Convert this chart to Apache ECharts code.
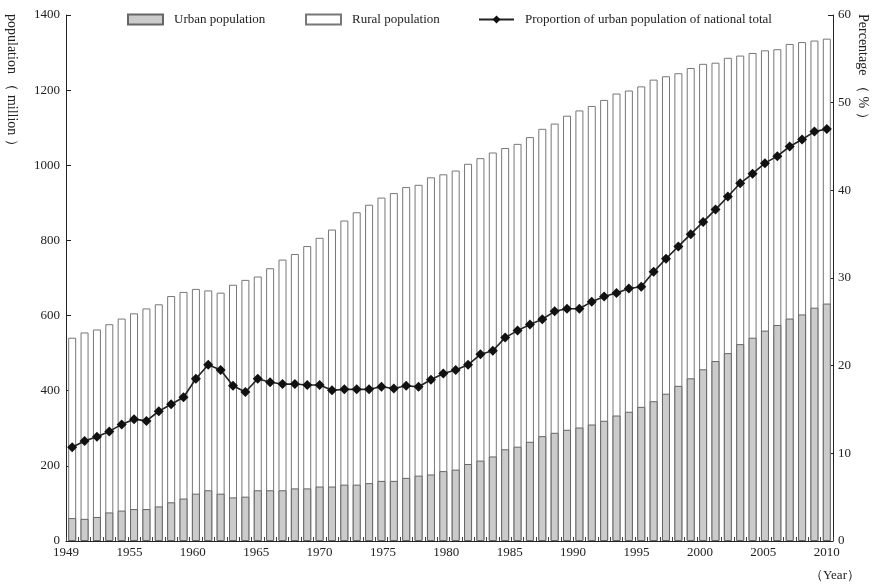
<!DOCTYPE html>
<html>
<head>
<meta charset="utf-8">
<script src="https://cdn.jsdelivr.net/npm/echarts@6/dist/echarts.min.js"></script>
<style>
  html, body { margin: 0; padding: 0; background: #fff; }
  #chart { width: 879px; height: 587px; }
</style>
</head>
<body>
<div id="chart"></div>
<script>
var years = ['1949','1950','1951','1952','1953','1954','1955','1956','1957','1958',
  '1959','1960','1961','1962','1963','1964','1965','1966','1967','1968',
  '1969','1970','1971','1972','1973','1974','1975','1976','1977','1978',
  '1979','1980','1981','1982','1983','1984','1985','1986','1987','1988',
  '1989','1990','1991','1992','1993','1994','1995','1996','1997','1998',
  '1999','2000','2001','2002','2003','2004','2005','2006','2007','2008',
  '2009','2010']

// total population (million), top of each bar
var totalPop = [541, 555, 563, 577, 592, 606, 619, 630, 652, 663,
  671, 667, 661, 682, 695, 704, 726, 749, 764, 785,
  807, 829, 853, 875, 895, 914, 926, 942, 948, 968,
  976, 986, 1004, 1019, 1034, 1046, 1057, 1075, 1097, 1111,
  1132, 1146, 1158, 1174, 1191, 1199, 1210, 1228, 1237, 1245,
  1259, 1270, 1273, 1286, 1292, 1299, 1306, 1309, 1323, 1328,
  1332, 1337]

// urban population (million)
var urbanPop = [61, 59, 64, 76, 81, 85, 85, 92, 103, 113,
  126, 135, 126, 116, 118, 135, 135, 135, 140, 140,
  145, 145, 150, 150, 154, 160, 160, 168, 174, 177,
  186, 190, 205, 214, 225, 244, 251, 264, 279, 288,
  296, 302, 310, 320, 334, 344, 357, 372, 392, 413,
  433, 457, 479, 500, 524, 541, 560, 575, 592, 603,
  621, 632]

// share of urban population (%)
var urbanShare = [10.7, 11.4, 11.9, 12.5, 13.3, 13.9, 13.7, 14.8, 15.6, 16.4,
  18.5, 20.1, 19.5, 17.7, 17.0, 18.5, 18.1, 17.9, 17.9, 17.8,
  17.8, 17.2, 17.3, 17.3, 17.3, 17.6, 17.4, 17.7, 17.6, 18.4,
  19.1, 19.5, 20.1, 21.3, 21.7, 23.2, 24.0, 24.7, 25.3, 26.2,
  26.5, 26.5, 27.3, 27.9, 28.3, 28.8, 29.0, 30.7, 32.2, 33.6,
  35.0, 36.4, 37.8, 39.3, 40.8, 41.9, 43.1, 43.9, 45.0, 45.8,
  46.7, 47.0]

var font = "'Liberation Serif', 'DejaVu Serif', serif"
var txt = '#222'

var chart = echarts.init(document.getElementById('chart'))

var legendBase = {
    top: 8,
    itemWidth: 35,
    itemHeight: 10,
    textStyle: { fontFamily: font, fontSize: 13, color: txt, padding: [0, 0, 0, 6] },
    selectedMode: false
}

var option = {
    animation: false,
    backgroundColor: '#fff',
    textStyle: { fontFamily: font },
    grid: { left: 66, right: 46, top: 15, bottom: 46 },
    legend: [
        Object.assign({}, legendBase, { left: 122, data: [{ name: 'Urban population', icon: 'rect' }] }),
        Object.assign({}, legendBase, { left: 300, data: [{ name: 'Rural population', icon: 'rect' }] }),
        Object.assign({}, legendBase, { left: 473, data: ['Proportion of urban population of national total'] })
    ],
    xAxis: [
        {
            type: 'category',
            data: years,
            boundaryGap: true,
            axisLine: { lineStyle: { color: '#222', width: 1 } },
            axisTick: { show: true, inside: true, length: 4, interval: 0, lineStyle: { color: '#444' } },
            axisLabel: { show: false }
        },
        {
            // label-only axis, the printed years sit on their own scale
            type: 'value',
            position: 'bottom',
            min: 1950,
            max: 2010.5,
            interval: 5,
            axisLine: { show: false },
            axisTick: { show: false },
            splitLine: { show: false },
            axisLabel: {
                margin: 5,
                fontFamily: font,
                fontSize: 13,
                color: txt,
                formatter: function (v) {
                    if (v % 5 !== 0) return ''
                    return v === 1950 ? '1949' : String(v)
                }
            }
        }
    ],
    yAxis: [
        {
            type: 'value',
            min: 0,
            max: 1400,
            interval: 200,
            axisLine: { show: true, lineStyle: { color: '#222' } },
            axisTick: { show: true, inside: true, length: 5, lineStyle: { color: '#222' } },
            splitLine: { show: false },
            axisLabel: {
                margin: 6, fontFamily: font, fontSize: 13, color: txt,
                formatter: function (v) { return String(v) }
            }
        },
        {
            type: 'value',
            min: 0,
            max: 60,
            interval: 10,
            position: 'right',
            axisLine: { show: true, lineStyle: { color: '#222' } },
            axisTick: { show: true, inside: true, length: 5, lineStyle: { color: '#222' } },
            splitLine: { show: false },
            axisLabel: { margin: 5, fontFamily: font, fontSize: 13, color: txt }
        }
    ],
    series: [
        {
            name: 'Rural population',
            type: 'bar',
            data: totalPop,
            barWidth: 8,
            itemStyle: { color: '#fff', borderColor: '#777', borderWidth: 1 }
        },
        {
            name: 'Urban population',
            type: 'bar',
            data: urbanPop,
            barWidth: 8,
            barGap: '-100%',
            itemStyle: { color: '#cbcbcb', borderColor: '#666', borderWidth: 1 }
        },
        {
            name: 'Proportion of urban population of national total',
            type: 'line',
            yAxisIndex: 1,
            data: urbanShare,
            symbol: 'diamond',
            symbolSize: 10,
            showAllSymbol: true,
            lineStyle: { color: '#222', width: 1.6 },
            itemStyle: { color: '#111' },
            z: 5
        }
    ],
    graphic: [
        {
            type: 'text',
            x: 5, y: 14,
            rotation: -Math.PI / 2,
            style: { text: 'population （ million ）', font: '14px ' + font, fill: txt, textAlign: 'left', textVerticalAlign: 'bottom' }
        },
        {
            type: 'text',
            x: 870, y: 14,
            rotation: -Math.PI / 2,
            style: { text: 'Percentage （ % ）', font: '14px ' + font, fill: txt, textAlign: 'left', textVerticalAlign: 'top' }
        },
        {
            type: 'text',
            x: 810, y: 569,
            style: { text: '（Year）', font: '13px ' + font, fill: txt }
        }
    ]
}

chart.setOption(option)
</script>
</body>
</html>
